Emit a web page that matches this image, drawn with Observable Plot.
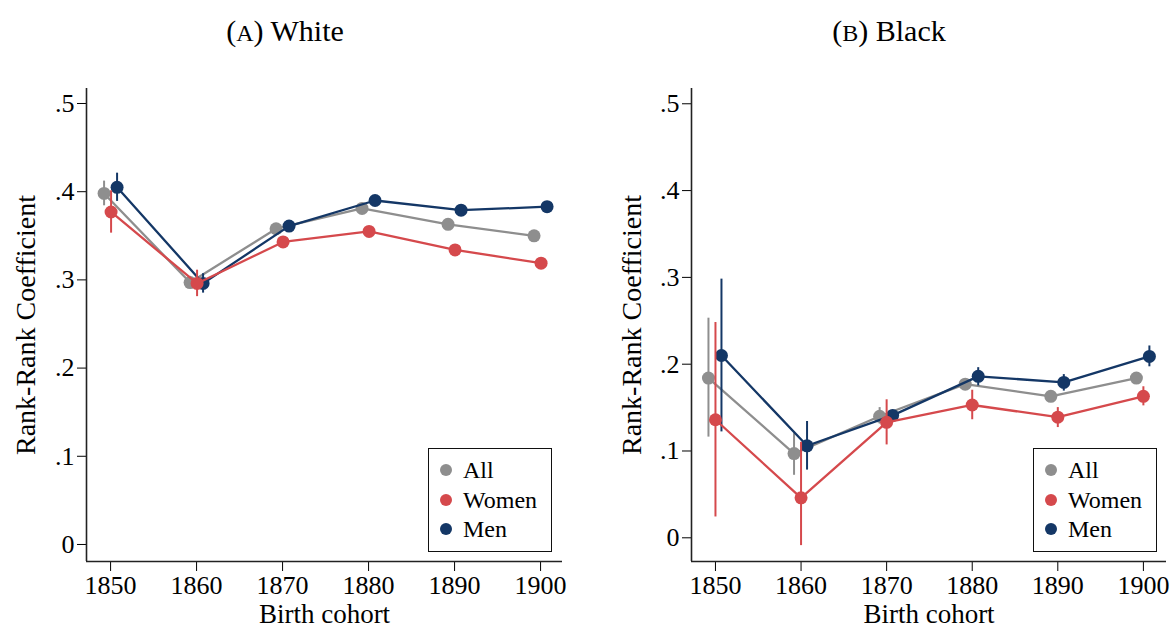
<!DOCTYPE html>
<html><head><meta charset="utf-8">
<script src="https://cdn.jsdelivr.net/npm/d3@7"></script>
<script src="https://cdn.jsdelivr.net/npm/@observablehq/plot@0.6"></script>
<style>
body{margin:0;background:#fff;}
#wrap{position:relative;width:1172px;height:628px;font-family:"Liberation Serif",serif;color:#000;overflow:hidden;background:#fff}
.panel{position:absolute;top:0}
.title{position:absolute;top:15px;font-size:30px;line-height:32px;transform:translateX(-50%);white-space:nowrap}
.sc{font-size:0.8em}
.legend{position:absolute;box-sizing:border-box;border:1.5px solid #111;background:#fff;width:124px;height:104px;font-size:24px}
.legend .row{position:absolute;left:0;height:28px;line-height:28px;white-space:nowrap}
.legend .dot{position:absolute;left:11px;top:8px;width:12px;height:12px;border-radius:50%}
.legend .lab{position:absolute;left:34px;top:0}
</style>
</head><body>
<div id="wrap"></div>
<script>
// ---------- data ----------
const years = [1850, 1860, 1870, 1880, 1890, 1900];
const yTicks = [0, 0.1, 0.2, 0.3, 0.4, 0.5];
const seriesNames = ["All", "Women", "Men"];

// White
const whiteAll      = [0.398, 0.297, 0.358, 0.381, 0.363, 0.350];
const whiteAllLo    = [0.384, 0.291, 0.354, 0.378, 0.360, 0.347];
const whiteAllHi    = [0.412, 0.304, 0.362, 0.384, 0.366, 0.353];
const whiteWomen    = [0.377, 0.296, 0.343, 0.355, 0.334, 0.319];
const whiteWomenLo  = [0.353, 0.281, 0.339, 0.351, 0.330, 0.315];
const whiteWomenHi  = [0.401, 0.311, 0.347, 0.359, 0.338, 0.323];
const whiteMen      = [0.405, 0.296, 0.361, 0.390, 0.379, 0.383];
const whiteMenLo    = [0.389, 0.285, 0.357, 0.387, 0.376, 0.380];
const whiteMenHi    = [0.421, 0.307, 0.365, 0.393, 0.382, 0.386];

// Black
const blackAll      = [0.184, 0.097, 0.140, 0.177, 0.163, 0.184];
const blackAllLo    = [0.116, 0.072, 0.131, 0.172, 0.159, 0.180];
const blackAllHi    = [0.253, 0.120, 0.150, 0.182, 0.167, 0.188];
const blackWomen    = [0.136, 0.046, 0.133, 0.153, 0.139, 0.163];
const blackWomenLo  = [0.024, -0.009, 0.107, 0.136, 0.127, 0.152];
const blackWomenHi  = [0.248, 0.110, 0.159, 0.170, 0.150, 0.174];
const blackMen      = [0.210, 0.106, 0.141, 0.186, 0.179, 0.209];
const blackMenLo    = [0.122, 0.078, 0.133, 0.175, 0.169, 0.197];
const blackMenHi    = [0.298, 0.134, 0.147, 0.196, 0.188, 0.221];

const yLabel = "Rank-Rank Coefficient";
const xLabel = "Birth cohort";

// ---------- styling ----------
const colors = {All: "#8e8e8e", Women: "#d5494c", Men: "#143766"};
const FONT = "Liberation Serif, serif";

function rows(name, v, lo, hi) {
  return years.map((yr, i) => ({year: yr, v: v[i], lo: lo[i], hi: hi[i], s: name}));
}
const yFmt = d => d === 0 ? "0" : d3.format(".1f")(d).replace(/^0/, "");

function panel(seriesData, opts) {
  const order = ["All", "Men", "Women"];
  const marks = [];
  for (const name of order) {
    const d = seriesData[name];
    const dx = opts.dx[name];
    const c = colors[name];
    marks.push(Plot.ruleX(d, {x: "year", y1: "lo", y2: "hi", stroke: c, strokeWidth: 2, dx}));
    marks.push(Plot.line(d, {x: "year", y: "v", stroke: c, strokeWidth: 2.3, dx}));
    marks.push(Plot.dot(d, {x: "year", y: "v", fill: c, r: 6.5, dx}));
  }
  return Plot.plot({
    width: 586, height: 628,
    marginLeft: opts.ml, marginRight: opts.mr, marginTop: 88, marginBottom: 67,
    style: {fontFamily: FONT, fontSize: "26px", background: "transparent", color: "#000", overflow: "visible"},
    x: {domain: opts.xDomain},
    y: {domain: opts.yDomain},
    marks: [
      Plot.axisY({ticks: yTicks, tickSize: 9, tickPadding: 3, tickFormat: yFmt, fontSize: 26, label: null}),
      Plot.axisX({ticks: years, tickSize: 10, tickPadding: 4, tickFormat: "d", fontSize: 26, label: null}),
      Plot.text([yLabel], {frameAnchor: "left", rotate: -90, dx: opts.ylx, textAnchor: "middle", lineAnchor: "middle", fontSize: 28, fill: "#000"}),
      Plot.text([xLabel], {frameAnchor: "bottom", dy: 53, textAnchor: "middle", lineAnchor: "middle", fontSize: 27, fill: "#000"}),
      Plot.ruleX([opts.xDomain[0]], {stroke: "#222", strokeWidth: 1.6}),
      Plot.ruleY([opts.yDomain[0]], {stroke: "#222", strokeWidth: 1.6}),
      ...marks
    ]
  });
}

const wrap = document.getElementById("wrap");

function addPanel(left, svg) {
  const div = document.createElement("div");
  div.className = "panel";
  div.style.left = left + "px";
  div.appendChild(svg);
  wrap.appendChild(div);
}
function addTitle(cx, letter, word) {
  const t = document.createElement("div");
  t.className = "title";
  t.style.left = cx + "px";
  t.innerHTML = `(<span class="sc">${letter}</span>) ${word}`;
  wrap.appendChild(t);
}
function addLegend(left, top) {
  const lg = document.createElement("div");
  lg.className = "legend";
  lg.style.left = left + "px";
  lg.style.top = top + "px";
  const rowTops = [7, 37, 66];
  seriesNames.forEach((n, i) => {
    const r = document.createElement("div");
    r.className = "row";
    r.style.top = rowTops[i] + "px";
    r.innerHTML = `<span class="dot" style="background:${colors[n]}"></span><span class="lab">${n}</span>`;
    lg.appendChild(r);
  });
  wrap.appendChild(lg);
}

const white = {
  All: rows("All", whiteAll, whiteAllLo, whiteAllHi),
  Women: rows("Women", whiteWomen, whiteWomenLo, whiteWomenHi),
  Men: rows("Men", whiteMen, whiteMenLo, whiteMenHi)
};
const black = {
  All: rows("All", blackAll, blackAllLo, blackAllHi),
  Women: rows("Women", blackWomen, blackWomenLo, blackWomenHi),
  Men: rows("Men", blackMen, blackMenLo, blackMenHi)
};

addPanel(0, panel(white, {ml: 86, mr: 24, xDomain: [1847.2, 1902.55], yDomain: [-0.0193, 0.517], ylx: -60,
  dx: {All: -6.5, Women: 0.5, Men: 6.5}}));
addPanel(586, panel(black, {ml: 105, mr: 6, xDomain: [1847.2, 1902.7], yDomain: [-0.0273, 0.5176], ylx: -59,
  dx: {All: -7, Women: 0, Men: 6}}));

addTitle(285, "A", "White");
addTitle(889, "B", "Black");
addLegend(428, 448);
addLegend(1033, 448);
</script>
</body></html>
